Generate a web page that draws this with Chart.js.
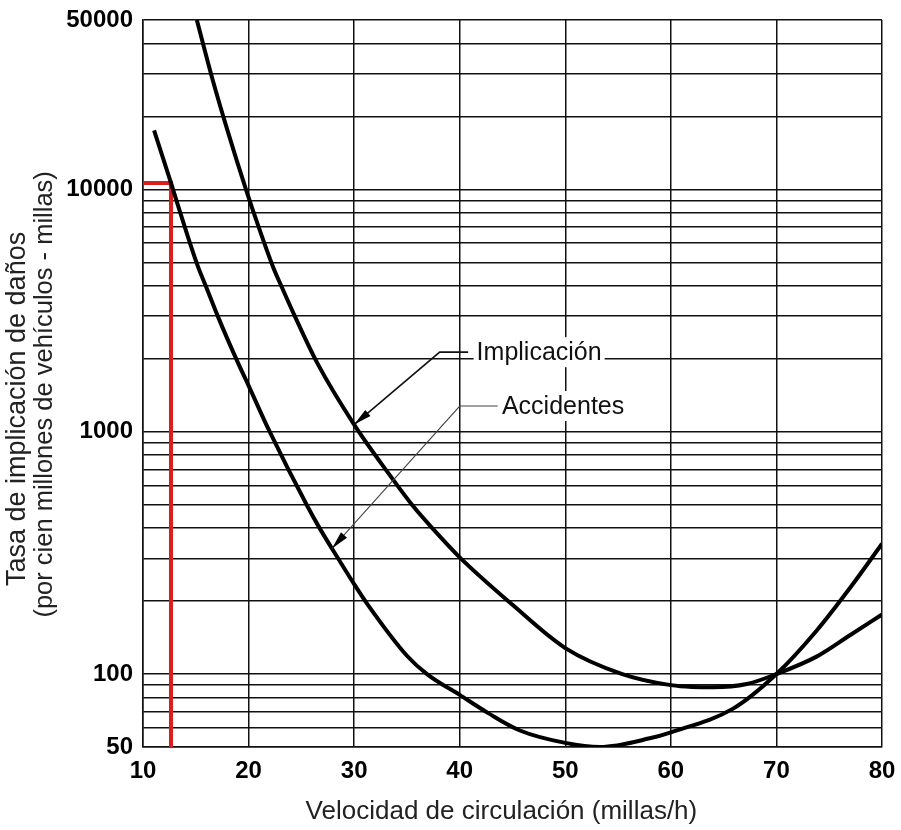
<!DOCTYPE html>
<html>
<head>
<meta charset="utf-8">
<script src="https://cdn.jsdelivr.net/npm/chart.js@4.4.0/dist/chart.umd.min.js"></script>
<style>
  html, body { margin: 0; padding: 0; background: #fff; }
  #wrap { width: 901px; height: 830px; }
</style>
</head>
<body>
<div id="wrap"><canvas id="myChart"></canvas></div>
<script>
// curva superior: implicacion
var velImplicacion = [15.1, 16.55, 17.95, 19.75, 21.0, 22.3, 23.05, 24.4, 26.5, 30, 33.2, 35.6, 37.4, 40, 45, 50, 55.4, 60, 62, 64, 67.2, 70, 73.8, 77, 80];
var tasaImplicacion = [50000, 28800, 17800, 10000, 6900, 4810, 4040, 2985, 1923, 1070, 678, 492, 400, 303, 193, 128, 100, 90, 88.5, 88.3, 91, 100, 118, 145, 176];

// curva inferior: accidentes
var velAccidentes = [11.05, 12.65, 14.0, 15.2, 15.9, 17.1, 19.0, 20, 22.0, 25.6, 26.7, 28.5, 30, 31.3, 35, 36.9, 40, 42.7, 45.7, 50, 53.3, 58, 60, 65.9, 70, 73.8, 77.3, 80];
var tasaAccidentes = [17500, 10630, 6900, 4810, 4040, 2985, 1923, 1550, 1000, 490, 402, 299, 235, 193, 119, 100, 82, 69, 58.5, 52, 50, 54.3, 57.5, 72, 100, 151, 237, 345];

// linea roja de lectura
var velRoja = [10, 12.65, 12.65];
var tasaRoja = [10630, 10630, 50];

var ticksX = [10, 20, 30, 40, 50, 60, 70, 80];
var etiquetasY = [50, 100, 1000, 10000, 50000];

var tituloX = 'Velocidad de circulación (millas/h)';
var tituloY = ['Tasa de implicación de daños', '(por cien millones de vehículos - millas)'];

// etiquetas con flecha: texto, punta de flecha, codo, fin de la linea, inicio del texto
var notas = [
  { texto: 'Implicación', punta: [30.0, 1070], codo: [38.1, 2130], fin: [40.8, 2130], txt: 41.6, grosor: 1.6, color: '#111' },
  { texto: 'Accidentes', punta: [27.9, 330], codo: [40.0, 1276], fin: [43.6, 1276], txt: 44.0, grosor: 1.1, color: '#444' }
];

// lineas de la cuadricula logaritmica (1..9 por decada)
var lineasY = [];
for (var e = 1; e <= 4; e++) {
  for (var m = 1; m <= 9; m++) {
    var v = m * Math.pow(10, e);
    if (v >= 50 && v <= 50000) lineasY.push(v);
  }
}

function puntos(xs, ys) {
  return xs.map(function (x, i) { return { x: x, y: ys[i] }; });
}

var fuente = "'Liberation Sans', Arial, sans-serif";

var notasPlugin = {
  id: 'notas',
  afterDatasetsDraw: function (chart) {
    var c = chart.ctx;
    var sx = chart.scales.x, sy = chart.scales.y;
    notas.forEach(function (n) {
      var tx = sx.getPixelForValue(n.punta[0]), ty = sy.getPixelForValue(n.punta[1]);
      var cx = sx.getPixelForValue(n.codo[0]), cy = sy.getPixelForValue(n.codo[1]);
      var fx = sx.getPixelForValue(n.fin[0]);
      var lx = sx.getPixelForValue(n.txt);
      c.save();
      c.font = '25px ' + fuente;
      var w = c.measureText(n.texto).width;
      c.fillStyle = '#fff';
      c.fillRect(lx - 3, cy - 15, w + 6, 30);
      c.fillStyle = '#111';
      c.textBaseline = 'middle';
      c.fillText(n.texto, lx, cy + 1);
      // lineas guia
      c.strokeStyle = n.color;
      c.lineWidth = n.grosor;
      c.beginPath();
      c.moveTo(fx, cy);
      c.lineTo(cx, cy);
      c.lineTo(tx, ty);
      c.stroke();
      // punta de flecha
      var ang = Math.atan2(ty - cy, tx - cx);
      var L = 18, W = 4;
      c.fillStyle = '#000';
      c.beginPath();
      c.moveTo(tx, ty);
      c.lineTo(tx - L * Math.cos(ang) + W * Math.sin(ang), ty - L * Math.sin(ang) - W * Math.cos(ang));
      c.lineTo(tx - L * Math.cos(ang) - W * Math.sin(ang), ty - L * Math.sin(ang) + W * Math.cos(ang));
      c.closePath();
      c.fill();
      c.restore();
    });
  }
};

// titulos de los ejes
var titulosPlugin = {
  id: 'titulos',
  afterDraw: function (chart) {
    var c = chart.ctx;
    var a = chart.chartArea;
    c.save();
    c.fillStyle = '#222';
    c.textAlign = 'center';
    c.textBaseline = 'middle';
    c.font = '26px ' + fuente;
    c.fillText(tituloX, a.left + (a.right - a.left) * 0.485, 812);
    c.translate(18, a.top + (a.bottom - a.top) * 0.535);
    c.rotate(-Math.PI / 2);
    c.font = '27px ' + fuente;
    c.fillText(tituloY[0], 0, 0);
    c.restore();
    c.save();
    c.fillStyle = '#222';
    c.textAlign = 'center';
    c.textBaseline = 'middle';
    c.translate(45, a.top + (a.bottom - a.top) * 0.515);
    c.rotate(-Math.PI / 2);
    c.font = '25.5px ' + fuente;
    c.fillText(tituloY[1], 0, 0);
    c.restore();
  }
};

var ctx = document.getElementById('myChart');
var myChart = new Chart(ctx, {
  type: 'line',
  data: {
    datasets: [
      {
        label: 'Implicación',
        data: puntos(velImplicacion, tasaImplicacion),
        borderColor: '#000',
        borderWidth: 4,
        pointRadius: 0,
        cubicInterpolationMode: 'monotone'
      },
      {
        label: 'Accidentes',
        data: puntos(velAccidentes, tasaAccidentes),
        borderColor: '#000',
        borderWidth: 4,
        pointRadius: 0,
        cubicInterpolationMode: 'monotone'
      },
      {
        label: 'lectura',
        data: puntos(velRoja, tasaRoja),
        borderColor: '#d81e1e',
        borderWidth: 4,
        pointRadius: 0,
        tension: 0
      }
    ]
  },
  options: {
    responsive: true,
    maintainAspectRatio: false,
    animation: false,
    layout: { padding: { top: 20, right: 19, bottom: 0, left: 0 } },
    plugins: {
      legend: { display: false },
      tooltip: { enabled: false }
    },
    scales: {
      x: {
        type: 'linear',
        min: 10,
        max: 80,
        afterBuildTicks: function (scale) {
          scale.ticks = ticksX.map(function (v) { return { value: v }; });
        },
        grid: { color: '#111', lineWidth: 1.5, drawTicks: false },
        border: { color: '#111', width: 1.5 },
        ticks: {
          color: '#000',
          padding: 10,
          font: { family: fuente, size: 24, weight: 'bold' }
        },
        afterFit: function (scale) {
          scale.height = 83;
          scale.paddingLeft = 0;
          scale.paddingRight = 0;
        }
      },
      y: {
        type: 'logarithmic',
        min: 50,
        max: 50000,
        afterBuildTicks: function (scale) {
          scale.ticks = lineasY.map(function (v) { return { value: v }; });
        },
        grid: { color: '#111', lineWidth: 1.5, drawTicks: false },
        border: { color: '#111', width: 1.5 },
        ticks: {
          color: '#000',
          padding: 10,
          autoSkip: false,
          font: { family: fuente, size: 24, weight: 'bold' },
          callback: function (v) {
            return etiquetasY.indexOf(v) >= 0 ? String(v) : '';
          }
        },
        afterFit: function (scale) {
          scale.width = 143;
          scale.paddingTop = 0;
          scale.paddingBottom = 0;
        }
      }
    }
  },
  plugins: [notasPlugin, titulosPlugin]
});
</script>
</body>
</html>
